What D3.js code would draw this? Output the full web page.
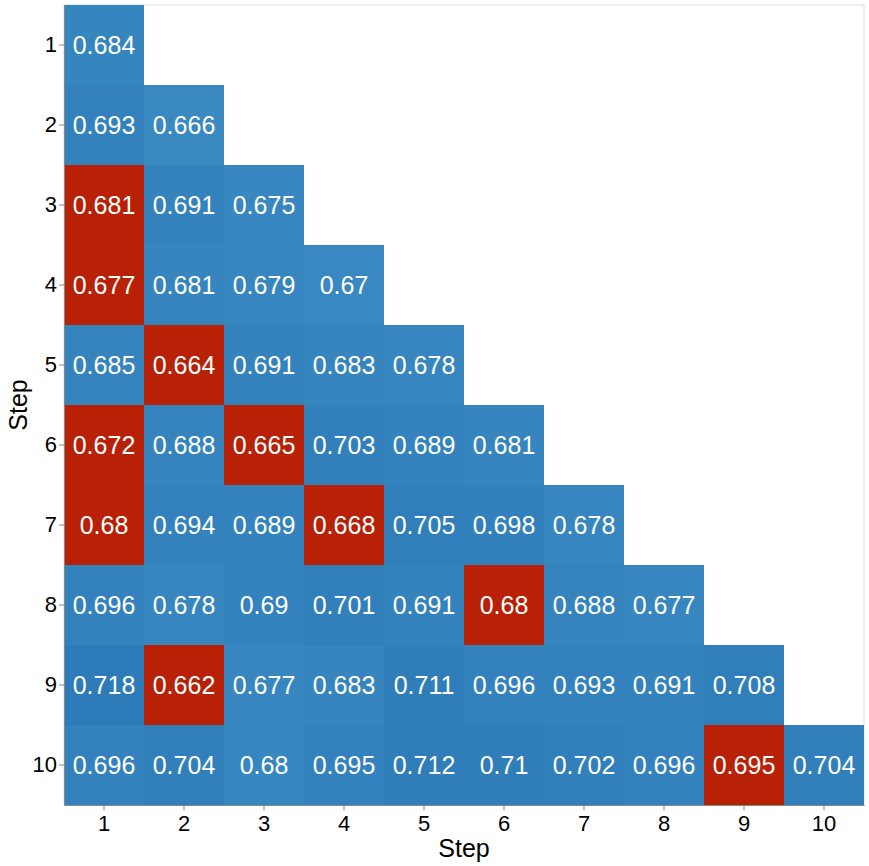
<!DOCTYPE html>
<html>
<head>
<meta charset="utf-8">
<script src="https://cdn.jsdelivr.net/npm/d3@7"></script>
<style>
  body { margin: 0; background: #fff; }
  text { font-family: "Liberation Sans", Arial, sans-serif; }
</style>
</head>
<body>
<div id="chart"></div>
<script>
// row step (y), column step (x), value, flagged (red)
const steps = [1, 2, 3, 4, 5, 6, 7, 8, 9, 10];
const rowSteps = [1, 2,2, 3,3,3, 4,4,4,4, 5,5,5,5,5, 6,6,6,6,6,6, 7,7,7,7,7,7,7,
  8,8,8,8,8,8,8,8, 9,9,9,9,9,9,9,9,9, 10,10,10,10,10,10,10,10,10,10];
const colSteps = [1, 1,2, 1,2,3, 1,2,3,4, 1,2,3,4,5, 1,2,3,4,5,6, 1,2,3,4,5,6,7,
  1,2,3,4,5,6,7,8, 1,2,3,4,5,6,7,8,9, 1,2,3,4,5,6,7,8,9,10];
const values = [
  0.684,
  0.693, 0.666,
  0.681, 0.691, 0.675,
  0.677, 0.681, 0.679, 0.67,
  0.685, 0.664, 0.691, 0.683, 0.678,
  0.672, 0.688, 0.665, 0.703, 0.689, 0.681,
  0.68, 0.694, 0.689, 0.668, 0.705, 0.698, 0.678,
  0.696, 0.678, 0.69, 0.701, 0.691, 0.68, 0.688, 0.677,
  0.718, 0.662, 0.677, 0.683, 0.711, 0.696, 0.693, 0.691, 0.708,
  0.696, 0.704, 0.68, 0.695, 0.712, 0.71, 0.702, 0.696, 0.695, 0.704
];
const flagged = [
  0,
  0, 0,
  1, 0, 0,
  1, 0, 0, 0,
  0, 1, 0, 0, 0,
  1, 0, 1, 0, 0, 0,
  1, 0, 0, 1, 0, 0, 0,
  0, 0, 0, 0, 0, 1, 0, 0,
  0, 1, 0, 0, 0, 0, 0, 0, 0,
  0, 0, 0, 0, 0, 0, 0, 0, 1, 0
];

const cells = values.map((v, i) => ({row: rowSteps[i], col: colSteps[i], value: v, flag: flagged[i] === 1}));

const width = 869, height = 866;
const margin = {top: 5, right: 5, bottom: 61, left: 64};
const w = width - margin.left - margin.right;
const h = height - margin.top - margin.bottom;

const svg = d3.select("#chart").append("svg")
    .attr("width", width)
    .attr("height", height);
const g = svg.append("g").attr("transform", `translate(${margin.left},${margin.top})`);

const x = d3.scaleBand().domain(steps).range([0, w]);
const y = d3.scaleBand().domain(steps).range([0, h]);
const blue = d3.scaleLinear()
    .domain(d3.extent(values))
    .range(["#3b8ac2", "#2d7cb9"]);

// frame
g.append("rect")
    .attr("width", w).attr("height", h)
    .attr("fill", "none").attr("stroke", "#ddd");

g.selectAll("rect.cell")
    .data(cells)
  .enter().append("rect")
    .attr("class", "cell")
    .attr("x", d => x(d.col))
    .attr("y", d => y(d.row))
    .attr("width", x.bandwidth())
    .attr("height", y.bandwidth())
    .attr("fill", d => d.flag ? "#b82105" : blue(d.value));

g.selectAll("text.lbl")
    .data(cells)
  .enter().append("text")
    .attr("class", "lbl")
    .attr("x", d => x(d.col) + x.bandwidth() / 2)
    .attr("y", d => y(d.row) + y.bandwidth() / 2)
    .attr("dy", "0.35em")
    .attr("text-anchor", "middle")
    .attr("fill", "#fff")
    .style("font-size", "25px")
    .text(d => d.value);

const xAxis = g.append("g")
    .attr("transform", `translate(0,${h})`)
    .call(d3.axisBottom(x).tickSize(5).tickSizeOuter(0).tickPadding(5));
const yAxis = g.append("g")
    .call(d3.axisLeft(y).tickSize(5).tickSizeOuter(0).tickPadding(2));

[xAxis, yAxis].forEach(a => {
  a.attr("font-size", 22);
  a.select(".domain").attr("stroke", "#888");
  a.selectAll(".tick line").attr("stroke", "#888");
  a.selectAll(".tick text")
      .attr("fill", "#000")
      .attr("font-size", 22)
      .style("font-size", "22px");
});

svg.append("text")
    .attr("x", margin.left + w / 2)
    .attr("y", 857)
    .attr("text-anchor", "middle")
    .style("font-size", "25px")
    .text("Step");

svg.append("text")
    .attr("transform", `translate(27,${margin.top + h / 2}) rotate(-90)`)
    .attr("text-anchor", "middle")
    .style("font-size", "25px")
    .text("Step");
</script>
</body>
</html>
